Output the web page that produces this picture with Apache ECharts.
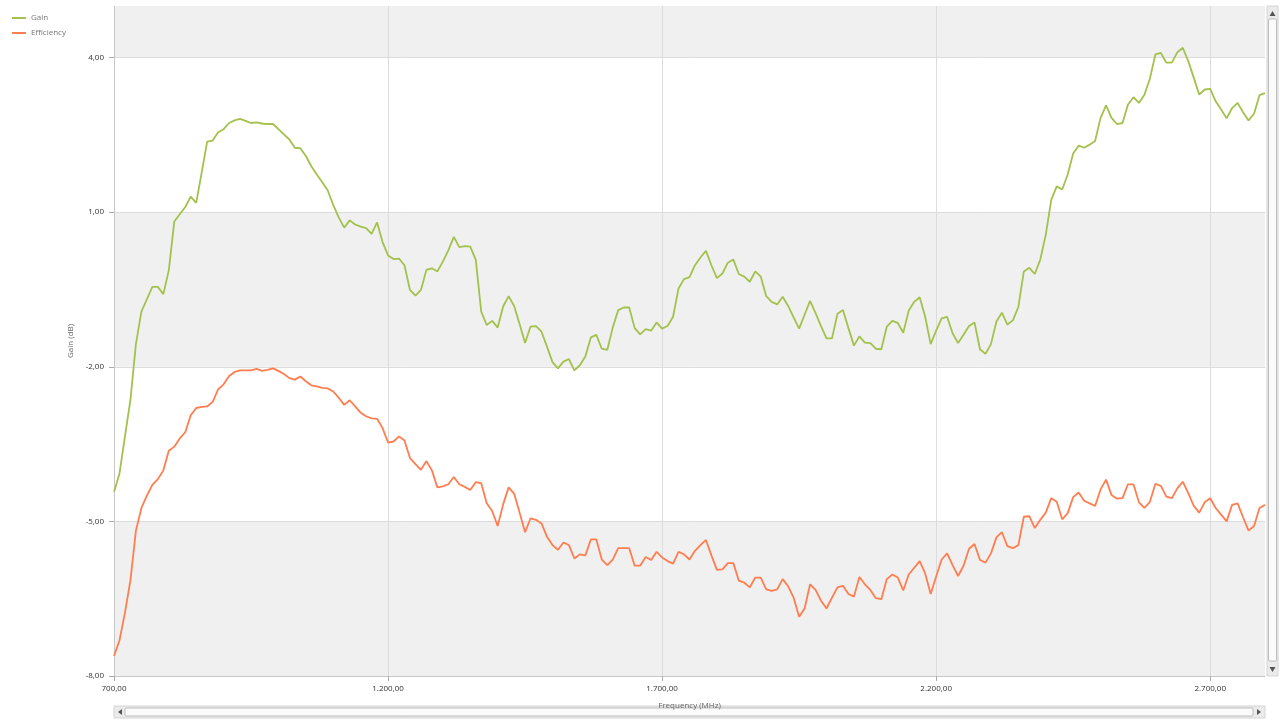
<!DOCTYPE html>
<html>
<head>
<meta charset="utf-8">
<script src="https://cdn.jsdelivr.net/npm/echarts@6/dist/echarts.min.js"></script>
<style>html,body{margin:0;padding:0;background:#fff;}#chart{width:1280px;height:720px;}</style>
</head>
<body>
<div id="chart"></div>
<script>
// Frequencies (MHz): 700 .. 2800, 10 MHz step
const startFreq = 700;
const stepFreq = 10;
const seriesNames = ['Gain', 'Efficiency'];
const xTickValues = [700, 1200, 1700, 2200, 2700];
const yTickValues = [-8, -5, -2, 1, 4];

const gainValues = [
  -4.43, -4.07, -3.35, -2.64, -1.56, -0.93, -0.69, -0.45, -0.45, -0.59,
  -0.13, 0.82, 0.96, 1.10, 1.30, 1.18, 1.77, 2.37, 2.39, 2.55,
  2.61, 2.73, 2.78, 2.81, 2.77, 2.73, 2.74, 2.72, 2.71, 2.71,
  2.61, 2.51, 2.41, 2.25, 2.24, 2.09, 1.89, 1.73, 1.58, 1.42,
  1.14, 0.90, 0.70, 0.84, 0.76, 0.72, 0.69, 0.58, 0.80, 0.42,
  0.16, 0.09, 0.10,
  -0.03, -0.51, -0.62, -0.51, -0.12, -0.09, -0.15,
  0.04, 0.26, 0.52, 0.32, 0.34, 0.33, 0.08, -0.93, -1.19, -1.11,
  -1.24, -0.83, -0.63, -0.82, -1.17, -1.54, -1.22, -1.21, -1.32, -1.61,
  -1.91, -2.03, -1.90, -1.85, -2.07, -1.97, -1.80, -1.43, -1.38, -1.65,
  -1.67, -1.24, -0.90, -0.85, -0.85, -1.25, -1.37, -1.27, -1.30, -1.14,
  -1.26, -1.21, -1.03, -0.48, -0.30,
  -0.26, -0.03, 0.12, 0.25, -0.03,
  -0.28, -0.19, 0.02, 0.08, -0.20, -0.25, -0.35, -0.15, -0.25, -0.63,
  -0.74, -0.79, -0.64, -0.82, -1.04, -1.26, -0.99, -0.72, -0.96, -1.21,
  -1.45, -1.45, -0.97, -0.90, -1.25, -1.59, -1.41, -1.53, -1.54, -1.65,
  -1.66, -1.22, -1.11, -1.15, -1.34, -0.91, -0.74, -0.65, -1.03, -1.56,
  -1.30, -1.06, -1.03, -1.35, -1.54, -1.38, -1.21,
  -1.14, -1.66, -1.75,
  -1.56, -1.12, -0.95, -1.18, -1.10, -0.84, -0.15, -0.08, -0.20, 0.08,
  0.56, 1.24, 1.50, 1.44, 1.73, 2.14, 2.29, 2.25, 2.31, 2.38,
  2.83, 3.07, 2.83, 2.71, 2.73, 3.09, 3.23, 3.12, 3.28, 3.59,
  4.06, 4.09, 3.90, 3.90, 4.10, 4.19, 3.93, 3.61, 3.28, 3.38,
  3.39, 3.15, 2.99, 2.82, 3.02, 3.12, 2.94, 2.78, 2.91, 3.27,
  3.31
];

const efficiencyValues = [
  -7.61, -7.31, -6.77, -6.14, -5.18, -4.74, -4.50, -4.29, -4.18, -4.01,
  -3.63, -3.55, -3.39, -3.27, -2.94, -2.80, -2.78, -2.77, -2.68, -2.44,
  -2.34, -2.18, -2.10, -2.07, -2.07, -2.07, -2.04, -2.08, -2.06, -2.03,
  -2.08, -2.14, -2.22, -2.25, -2.19, -2.28, -2.36, -2.38, -2.41, -2.42,
  -2.48, -2.60, -2.74, -2.65, -2.77, -2.89, -2.96, -3.00, -3.01, -3.19,
  -3.47, -3.45, -3.35,
  -3.43, -3.77, -3.89, -4.00, -3.83, -4.01, -4.34,
  -4.32, -4.28, -4.14, -4.28, -4.33, -4.39, -4.24, -4.26, -4.65, -4.80,
  -5.09, -4.67, -4.34, -4.46, -4.83, -5.21, -4.94, -4.97, -5.04, -5.30,
  -5.46, -5.55, -5.41, -5.46, -5.72, -5.64, -5.66, -5.35, -5.35, -5.74,
  -5.85, -5.74, -5.52, -5.52, -5.52, -5.86, -5.86, -5.69, -5.75, -5.59,
  -5.70, -5.77, -5.82, -5.59, -5.64,
  -5.74, -5.57, -5.46, -5.36, -5.66,
  -5.94, -5.93, -5.81, -5.81, -6.15, -6.19, -6.28, -6.09, -6.09, -6.32,
  -6.35, -6.32, -6.12, -6.26, -6.48, -6.85, -6.69, -6.22, -6.33, -6.54,
  -6.69, -6.48, -6.28, -6.25, -6.41, -6.46, -6.08, -6.22, -6.33, -6.49,
  -6.51, -6.12, -6.03, -6.09, -6.34, -6.03, -5.90, -5.77, -6.01, -6.41,
  -6.07, -5.74, -5.62, -5.85, -6.06, -5.86, -5.53,
  -5.44, -5.75, -5.80,
  -5.62, -5.31, -5.21, -5.48, -5.52, -5.46, -4.91, -4.90, -5.13, -4.97,
  -4.83, -4.55, -4.62, -4.96, -4.84, -4.53, -4.44, -4.60, -4.65, -4.70,
  -4.38, -4.19, -4.49, -4.56, -4.55, -4.28, -4.28, -4.63, -4.74, -4.62,
  -4.27, -4.31, -4.52, -4.55, -4.36, -4.23, -4.45, -4.70, -4.83, -4.63,
  -4.55, -4.74, -4.87, -5.00, -4.68, -4.65, -4.92, -5.18, -5.09, -4.74,
  -4.68
];

const frequencies = gainValues.map(function (_, i) { return startFreq + i * stepFreq; });

function fmtDE(v) {
  const neg = v < 0;
  const s = Math.abs(v).toFixed(2).split('.');
  const intPart = s[0].replace(/\B(?=(\d{3})+(?!\d))/g, '.');
  return (neg ? '-' : '') + intPart + ',' + s[1];
}

const chart = echarts.init(document.getElementById('chart'), null, { renderer: 'canvas' });
const FONT = 'Open Sans';

const option = {
  backgroundColor: '#ffffff',
  animation: false,
  color: ['#a3c14c', '#ff7d4f'],
  legend: {
    orient: 'vertical',
    left: 7,
    top: 9,
    itemWidth: 14,
    itemHeight: 2,
    itemGap: 7,
    icon: 'rect',
    textStyle: { fontFamily: FONT, fontSize: 8, color: '#777' },
    data: seriesNames
  },
  grid: { left: 114, right: 15, top: 6, bottom: 44, containLabel: false },
  xAxis: {
    type: 'value',
    min: xTickValues[0],
    max: 2800,
    interval: xTickValues[1] - xTickValues[0],
    name: 'Frequency (MHz)',
    nameLocation: 'middle',
    nameGap: 26,
    nameTextStyle: { fontFamily: FONT, fontSize: 8, color: '#666' },
    axisLine: { show: true, onZero: false, lineStyle: { color: '#c8c8c8', width: 1 } },
    axisTick: { show: true, length: 5, lineStyle: { color: '#aaa' } },
    axisLabel: {
      fontFamily: FONT, fontSize: 8, color: '#333', margin: 9,
      showMaxLabel: false,
      formatter: function (v) { return fmtDE(v); }
    },
    splitLine: { show: true, showMaxLine: false, lineStyle: { color: '#dcdcdc', width: 1 } }
  },
  yAxis: {
    type: 'value',
    min: yTickValues[0],
    max: 5,
    interval: yTickValues[1] - yTickValues[0],
    name: 'Gain (dB)',
    nameLocation: 'middle',
    nameRotate: 90,
    nameGap: 30,
    nameTextStyle: { fontFamily: FONT, fontSize: 8, color: '#666' },
    axisLine: { show: true, onZero: false, lineStyle: { color: '#c8c8c8', width: 1 } },
    axisTick: { show: true, length: 5, lineStyle: { color: '#aaa' } },
    axisLabel: {
      fontFamily: FONT, fontSize: 8, color: '#333', margin: 10,
      showMaxLabel: false,
      formatter: function (v) { return fmtDE(v); }
    },
    splitLine: { show: true, showMaxLine: false, lineStyle: { color: '#dcdcdc', width: 1 } },
    splitArea: { show: true, areaStyle: { color: ['#f0f0f0', '#ffffff'] } }
  },
  series: [
    {
      name: seriesNames[0],
      type: 'line',
      symbol: 'none',
      lineStyle: { width: 1.8, color: '#a3c14c' },
      data: frequencies.map(function (f, i) { return [f, gainValues[i]]; })
    },
    {
      name: seriesNames[1],
      type: 'line',
      symbol: 'none',
      lineStyle: { width: 1.8, color: '#ff7d4f' },
      data: frequencies.map(function (f, i) { return [f, efficiencyValues[i]]; })
    }
  ],
  graphic: [
    // vertical scrollbar (decorative)
    { type: 'rect', shape: { x: 1267, y: 6, width: 11, height: 670 }, style: { fill: '#ebebeb', stroke: '#d4d4d4', lineWidth: 1 }, silent: true },
    { type: 'polygon', shape: { points: [[1269.5, 16], [1275.5, 16], [1272.5, 11]] }, style: { fill: '#555' }, silent: true },
    { type: 'rect', shape: { x: 1268.5, y: 19, width: 8, height: 642, r: 1 }, style: { fill: '#fbfbfb', stroke: '#bdbdbd', lineWidth: 1 }, silent: true },
    { type: 'polygon', shape: { points: [[1269.5, 667], [1275.5, 667], [1272.5, 672]] }, style: { fill: '#555' }, silent: true },
    // horizontal scrollbar (decorative)
    { type: 'rect', shape: { x: 114, y: 706, width: 1151, height: 12 }, style: { fill: '#ebebeb', stroke: '#d4d4d4', lineWidth: 1 }, silent: true },
    { type: 'polygon', shape: { points: [[122, 709], [122, 715], [118, 712]] }, style: { fill: '#555' }, silent: true },
    { type: 'rect', shape: { x: 125, y: 708, width: 1128, height: 8, r: 1 }, style: { fill: '#fbfbfb', stroke: '#bdbdbd', lineWidth: 1 }, silent: true },
    { type: 'polygon', shape: { points: [[1257, 709], [1257, 715], [1261, 712]] }, style: { fill: '#555' }, silent: true }
  ]
};

chart.setOption(option);
</script>
</body>
</html>
